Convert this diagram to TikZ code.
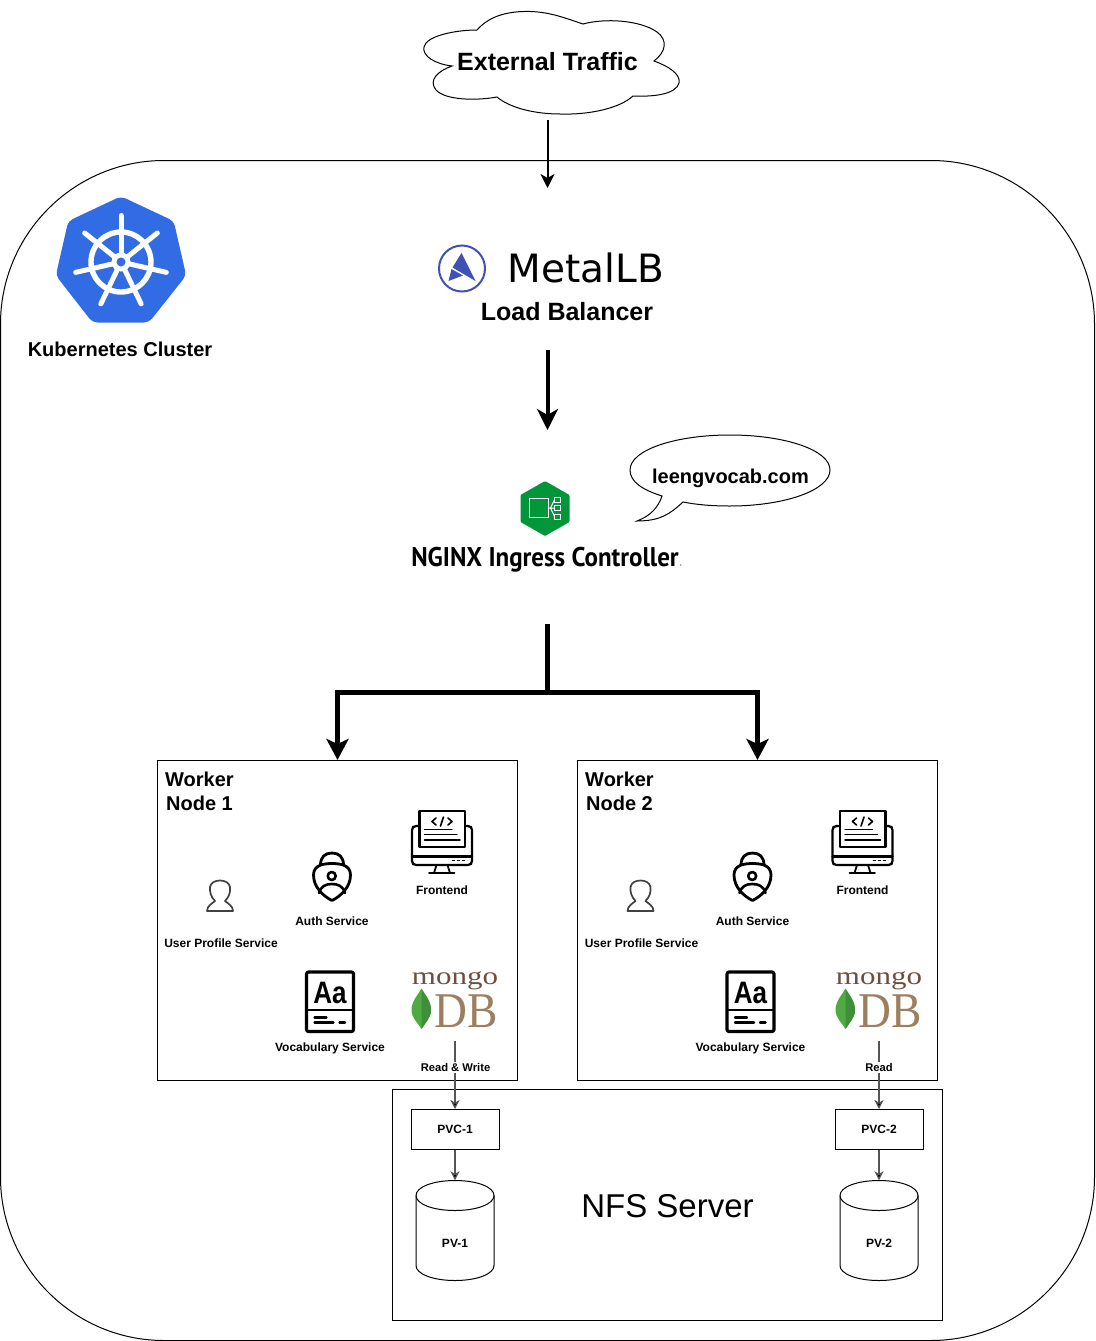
\documentclass[tikz,border=0pt]{standalone}
\usepackage{fontspec}
\setmainfont{Liberation Sans}
\newfontfamily\djv{DejaVu Sans}
\newfontfamily\serifb{Liberation Serif}
\newfontfamily\ngfont{PT Sans}
\usetikzlibrary{arrows.meta}
\newcommand{\fs}[1]{\fontsize{#1}{#1}\selectfont}
\definecolor{k8sblue}{HTML}{326CE5}
\definecolor{mlb}{HTML}{3F51B5}
\definecolor{ngx}{HTML}{009639}
\definecolor{mbrown}{HTML}{6B4F40}
\definecolor{dbbrown}{HTML}{9B7F5E}
\definecolor{leafa}{HTML}{4FAA41}
\definecolor{leafb}{HTML}{3E8E3A}
\definecolor{connector}{HTML}{555555}
\tikzset{
  outline/.style={draw=black,line width=1pt,fill=none},
  boxnode/.style={draw=black,line width=1pt,inner sep=0pt,fill=none},
  lbl/.style={inner sep=0pt,anchor=base,font=\bfseries\fs{#1}},
  thinarrow/.style={draw=black,line width=2pt,-{Stealth[length=14pt,width=14pt,inset=4pt]}},
  midarrow/.style={draw=black,line width=4pt,-{Stealth[length=21pt,width=21pt,inset=6pt]}},
  busarrow/.style={draw=black,line width=5pt,-{Stealth[length=21pt,width=22pt,inset=5pt]}},
  pvarrow/.style={draw=connector,line width=1.2pt,-{Stealth[length=9pt,width=9pt,inset=2.5pt,fill=black]}},
  icon/.style={draw=black,line width=2.2pt,line cap=round,line join=round,fill=none},
  edgelabel/.style={fill=white,inner sep=1pt,text=black,font=\bfseries\fs{11.2}},
}
\newcommand{\frontendicon}{%
  \draw[icon,rounded corners=2pt] (419,826) -- (414,826) -- (412,828) -- (412,863) -- (414,865) -- (470,865) -- (472,863) -- (472,828) -- (470,826) -- (465,826);
  \draw[icon] (412,856.5) -- (472,856.5);
  \draw[icon] (419.5,810.7) rectangle (465,846.7);
  \draw[icon,line width=1.6pt] (436,818) -- (432,821.5) -- (436,825);
  \draw[icon,line width=1.6pt] (448,818) -- (452,821.5) -- (448,825);
  \draw[icon,line width=1.6pt] (443.5,817) -- (440.5,826);
  \draw[icon,line width=1.4pt] (424.5,829.5) -- (452,829.5);
  \draw[icon,line width=1.4pt] (424.5,834.5) -- (457,834.5);
  \draw[icon,line width=1.4pt] (424.5,840) -- (460,840);
  \draw[black,line width=1.8pt,dash pattern=on 3pt off 2pt] (452,860.5) -- (467,860.5);
  \draw[icon,line width=1.8pt] (436.5,865) -- (434,873) (447.5,865) -- (450,873) (429,873) -- (454.5,873);
}
\newcommand{\authicon}{%
  \draw[icon,line width=2.8pt] (320.5,865) .. controls (320.5,857) and (325,853) .. (332,853) .. controls (339,853) and (343.5,857) .. (343.5,865);
  \draw[icon,line width=2.8pt] (320.5,865) .. controls (316,867) and (313.5,870) .. (313.5,875) .. controls (313.5,887) and (323,896) .. (332,900.5) .. controls (341,896) and (350.5,887) .. (350.5,875) .. controls (350.5,870) and (348,867) .. (343.5,865) .. controls (337,863) and (327,863) .. (320.5,865) -- cycle;
  \draw[icon,line width=2.6pt] (331.7,876) circle (4pt);
  \draw[icon,line width=2.6pt] (319,893) .. controls (321,886) and (326,884) .. (331.7,884) .. controls (338,884) and (343,886) .. (345,893);
}
\newcommand{\usericon}{%
  \draw[draw=black!75,line width=1.7pt,line join=round] (207,911) -- (233,911) .. controls (233,906) and (228,903.5) .. (225,901) .. controls (229,897) and (230.7,892) .. (230,887) .. controls (229,882.5) and (225,880.5) .. (220,880.5) .. controls (215,880.5) and (211,882.5) .. (210,887) .. controls (209.5,892) and (211,897) .. (215,901) .. controls (212,903.5) and (207,906) .. (207,911) -- cycle;
}
\newcommand{\vocabicon}{%
  \draw[icon,line width=3.2pt,rounded corners=2pt] (306.5,972) rectangle (353.5,1031.5);
  \draw[icon,line width=2pt] (306.5,1010) -- (353.5,1010);
  \draw[icon,line width=2.4pt] (314.5,1017.5) -- (326.5,1017.5) (314.5,1022.5) -- (333.5,1022.5) (339.5,1022.5) -- (345,1022.5);
  \node[inner sep=0pt,anchor=base] at (330,1003.5) {\scalebox{0.84}[1]{\bfseries\fs{31}Aa}};
}
\newcommand{\mongoicon}{%
  \node[inner sep=0pt,anchor=base,text=mbrown] at (455,984.5) {\scalebox{1.24}[1]{\serifb\fs{25}mongo}};
  \node[inner sep=0pt,anchor=base,text=dbbrown] at (466,1027) {\scalebox{0.91}[1]{\serifb\fs{50}DB}};
  \fill[leafa] (421.5,988.5) .. controls (425,995) and (431,1001) .. (431,1010) .. controls (431,1018) and (425,1023) .. (421.5,1029) .. controls (418,1023) and (411.5,1018) .. (411.5,1010) .. controls (411.5,1001) and (418,995) .. (421.5,988.5) -- cycle;
  \fill[leafb] (421.5,988.5) .. controls (425,995) and (431,1001) .. (431,1010) .. controls (431,1018) and (425,1023) .. (421.5,1029) -- cycle;
}
\begin{document}
\begin{tikzpicture}[x=1pt,y=-1pt]
\useasboundingbox (0,0) rectangle (1095,1341);

% cluster frame
\draw[outline] (164,160.5) -- (931,160.5) .. controls (1021,160.5) and (1094.5,234) .. (1094.5,324) -- (1094.5,1177) .. controls (1094.5,1267) and (1021,1340.5) .. (931,1340.5) -- (164,1340.5) .. controls (74,1340.5) and (0.5,1267) .. (0.5,1177) -- (0.5,324) .. controls (0.5,234) and (74,160.5) .. (164,160.5) -- cycle;

% external traffic cloud
\draw[outline] (477,30) .. controls (490,15) and (510,11) .. (530,11.5) .. controls (550,12) and (565,18) .. (583,24) .. controls (605,18) and (640,20) .. (657,32) .. controls (668,40) and (666,52) .. (654,61) .. controls (668,66) and (681,74) .. (679,83) .. controls (676,94) and (655,97) .. (633,96) .. controls (620,108) and (590,115) .. (560,114) .. controls (535,114) and (510,108) .. (497,97) .. controls (475,101) and (445,100) .. (436,90) .. controls (428,80) and (438,71) .. (452,66) .. controls (435,64) and (422,56) .. (424,47) .. controls (426,36) and (455,30) .. (477,30) -- cycle;
\node[lbl=25] (ext) at (547.5,70) {External Traffic};
\coordinate (extout) at (547.5,120);
\coordinate (lbin) at (547.5,188);
\draw[thinarrow] (extout) -- (lbin);

% kubernetes logo
\fill[k8sblue,draw=k8sblue,line width=4pt,line join=round,rounded corners=4pt] (121,198.5) -- (172,222.5) -- (184,275) -- (148,320.5) -- (93.5,320.5) -- (58,275) -- (70,222.5) -- cycle;
\draw[white,line width=5.4pt] (121,262) circle (30pt);
\foreach \a in {90,38.6,-12.9,-64.3,-115.7,-167.1,141.4}{
  \draw[white,line width=5pt,line cap=round] (121,262) -- ++({46.5*cos(\a)},{-46.5*sin(\a)});
}
\fill[white] (121,262) circle (9.5pt);
\fill[k8sblue] (121,262) circle (4.5pt);
\node[lbl=20] (k8s) at (120,356) {Kubernetes Cluster};

% metallb
\draw[mlb,line width=2pt] (462,268.5) circle (23pt);
\fill[mlb] (461.5,253) -- (475.5,281) -- (452.5,267.5) -- cycle;
\fill[mlb] (451.5,269) -- (463,275.5) -- (448.5,281) -- cycle;
\node[inner sep=0pt,anchor=base] (metallb) at (586,282) {\djv\fs{39}MetalLB};
\node[lbl=25] (lb) at (567,320) {Load Balancer};
\coordinate (lbout) at (547.5,350);
\coordinate (ngin) at (547.5,430);
\draw[midarrow] (lbout) -- (ngin);

% nginx
\fill[ngx,rounded corners=1pt] (545,481) -- (569.5,495) -- (569.5,522) -- (545,536) -- (520.5,522) -- (520.5,495) -- cycle;
\draw[white,line width=1.2pt] (529.5,498.5) rectangle (548.5,517.5);
\draw[white,line width=1pt] (554.5,497) rectangle (560,502.5) (554.5,505.5) rectangle (560,510.5) (554.5,514) rectangle (560,519.5);
\draw[white,line width=1pt] (548.5,508) -- (554.5,508) (550.5,508) -- (554.5,500) (550.5,508) -- (554.5,516.5);
\node[inner sep=0pt,anchor=base] (nginx) at (545,566) {\scalebox{0.925}[1]{\ngfont\bfseries\fs{27}NGINX Ingress Controller}};
\fill[black!40] (680.5,565) circle (1pt);

% speech bubble
\draw[outline] (683,502) .. controls (698,505) and (714,506) .. (730,506) .. controls (785,506) and (830,490) .. (830,470) .. controls (830,450) and (785,435) .. (730,435) .. controls (675,435) and (630,450) .. (630,470) .. controls (630,482) and (643,490) .. (662,496) .. controls (658,508) and (650,516) .. (637,521) .. controls (660,521) and (670,514) .. (683,502) -- cycle;
\node[lbl=20] (bubble) at (730.5,483) {leengvocab.com};

% worker boxes
\node[boxnode,minimum width=360pt,minimum height=320pt] (w1) at (337.5,920.5) {};
\node[boxnode,minimum width=360pt,minimum height=320pt] (w2) at (757.5,920.5) {};

% bus
\coordinate (busstart) at (547.5,624);
\coordinate (busjoin) at (547.5,692);
\draw[line width=5pt,draw=black] (busstart) -- (busjoin);
\draw[busarrow] (busjoin) -| (w1.north);
\draw[busarrow] (busjoin) -| (w2.north);

\node[inner sep=0pt,align=center,font=\bfseries\fs{20}] (w1t) at (199.5,791) {Worker\\[4pt]Node 1};
\node[inner sep=0pt,align=center,font=\bfseries\fs{20}] (w2t) at (619.5,791) {Worker\\[4pt]Node 2};

\foreach \dx/\mx in {0/0,420.5/424}{
\begin{scope}[shift={(\dx,0)}]
  \frontendicon
  \authicon
  \usericon
  \vocabicon
  \node[lbl=12] at (442,894.5) {Frontend};
  \node[lbl=12] at (332,925) {Auth Service};
  \node[lbl=12] at (221,947) {User Profile Service};
  \node[lbl=12] at (330,1051) {Vocabulary Service};
\end{scope}
\begin{scope}[shift={(\mx,0)}]
  \mongoicon
\end{scope}
}

% NFS
\node[boxnode,minimum width=550.5pt,minimum height=231pt] (nfs) at (667.25,1205) {};
\node[inner sep=0pt,anchor=base,font=\fs{33}] (nfst) at (667.5,1217) {NFS Server};
\node[boxnode,minimum width=88pt,minimum height=40pt,font=\bfseries\fs{12}] (pvc1) at (455,1129.5) {PVC-1};
\node[boxnode,minimum width=88pt,minimum height=40pt,font=\bfseries\fs{12}] (pvc2) at (879,1129.5) {PVC-2};
\node[inner sep=0pt,minimum width=78pt,minimum height=100pt] (pv1) at (455,1230.5) {};
\node[inner sep=0pt,minimum width=78pt,minimum height=100pt] (pv2) at (879,1230.5) {};
\foreach \c/\t in {455/PV-1,879/PV-2}{
  \draw[outline] (\c-39,1195.5) .. controls (\c-39,1187) and (\c-22,1180.5) .. (\c,1180.5) .. controls (\c+22,1180.5) and (\c+39,1187) .. (\c+39,1195.5) -- (\c+39,1265.5) .. controls (\c+39,1274) and (\c+22,1280.5) .. (\c,1280.5) .. controls (\c-22,1280.5) and (\c-39,1274) .. (\c-39,1265.5) -- cycle;
  \draw[outline] (\c-39,1195.5) .. controls (\c-39,1204) and (\c-22,1210.5) .. (\c,1210.5) .. controls (\c+22,1210.5) and (\c+39,1204) .. (\c+39,1195.5);
  \node[lbl=12] at (\c,1247) {\t};
}
\coordinate (m1) at (455,1041);
\coordinate (m2) at (879,1041);
\draw[pvarrow] (m1) -- (pvc1.north);
\draw[pvarrow] (m2) -- (pvc2.north);
\node[edgelabel] (rw) at (455.5,1067.5) {Read \& Write};
\node[edgelabel] (rd) at (879,1067.5) {Read};
\draw[pvarrow] (pvc1.south) -- (pv1.north);
\draw[pvarrow] (pvc2.south) -- (pv2.north);
\end{tikzpicture}
\end{document}
